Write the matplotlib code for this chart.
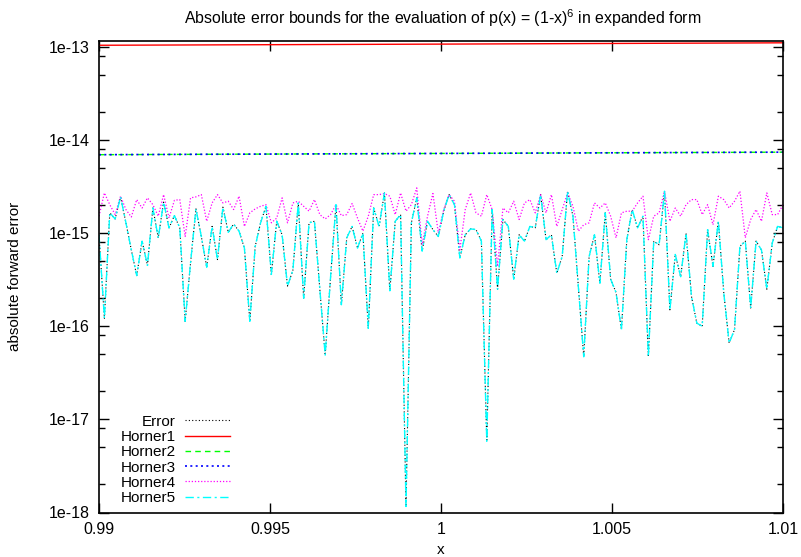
import matplotlib
matplotlib.use('Agg')
import matplotlib.pyplot as plt
import numpy as np
from matplotlib.ticker import FixedLocator, LogLocator, NullFormatter

plt.rcParams['font.family'] = ['Liberation Sans', 'DejaVu Sans']
plt.rcParams['mathtext.fontset'] = 'custom'
plt.rcParams['mathtext.rm'] = 'Liberation Sans'
plt.rcParams['mathtext.it'] = 'Liberation Sans'

# evaluation grid
x = np.linspace(0.99, 1.01, 128)

# a-priori bounds (nearly constant over the interval)
bound_x = [0.99, 1.0, 1.01]
horner1 = [1.04e-13, 1.07e-13, 1.105e-13]
horner2 = [6.95e-15, 7.17e-15, 7.4e-15]
horner3 = [6.95e-15, 7.17e-15, 7.4e-15]

# measured error
error = [
    9.6e-16, 1.22e-16, 1.65e-15, 1.42e-15, 2.45e-15, 1.29e-15, 6.6e-16, 3.5e-16,
    8.2e-16, 4.5e-16, 1.86e-15, 8.9e-16, 2.15e-15, 1.14e-15, 1.54e-15, 1.14e-15,
    1.13e-16, 4.8e-16, 1.82e-15, 9.2e-16, 4.3e-16, 1.18e-15, 5.2e-16, 1.90e-15,
    1.02e-15, 1.25e-15, 1.05e-15, 6.9e-16, 1.13e-16, 7.2e-16, 1.29e-15, 1.94e-15,
    3.6e-16, 1.34e-15, 9.6e-16, 2.7e-16, 4.0e-16, 2.11e-15, 2.0e-16, 1.29e-15,
    1.34e-15, 2.5e-16, 4.9e-17, 3.4e-16, 2.02e-15, 1.7e-16, 8.9e-16, 1.18e-15,
    6.9e-16, 1.0e-15, 9.5e-17, 1.86e-15, 1.18e-15, 2.70e-15, 2.4e-16, 1.34e-15,
    1.58e-15, 1.16e-18, 1.29e-15, 2.39e-15, 6.4e-16, 1.34e-15, 1.09e-15, 9.2e-16,
    1.72e-15, 2.59e-15, 2.02e-15, 5.4e-16, 9.6e-16, 1.11e-15, 1.09e-15, 8.2e-16,
    5.8e-18, 1.79e-15, 2.5e-16, 1.40e-15, 1.18e-15, 3.2e-16, 9.6e-16, 8.2e-16,
    1.18e-15, 1.14e-15, 2.59e-15, 8.5e-16, 9.6e-16, 3.7e-16, 5.6e-16, 2.82e-15,
    1.52e-15, 2.7e-16, 4.7e-17, 5.6e-16, 9.6e-16, 2.9e-16, 1.65e-15, 3.2e-16,
    2.3e-16, 9.2e-17, 8.5e-16, 1.79e-15, 1.14e-15, 1.52e-15, 4.7e-17, 8.2e-16,
    7.5e-16, 2.82e-15, 1.5e-16, 5.9e-16, 3.4e-16, 1.0e-15, 2.1e-16, 1.08e-16,
    1.0e-16, 1.09e-15, 4.4e-16, 1.34e-15, 2.3e-16, 6.6e-17, 9.2e-17, 7.2e-16,
    8.2e-16, 1.57e-16, 8.2e-16, 6.6e-16, 2.5e-16, 7.8e-16, 1.18e-15, 1.14e-15,
]

horner4 = [
    1.52e-15, 2.70e-15, 2.02e-15, 1.58e-15, 2.49e-15, 1.79e-15, 1.49e-15, 2.29e-15,
    1.86e-15, 2.39e-15, 2.02e-15, 1.52e-15, 2.59e-15, 1.45e-15, 2.25e-15, 2.29e-15,
    9.2e-16, 2.39e-15, 2.45e-15, 2.59e-15, 1.34e-15, 2.11e-15, 2.59e-15, 2.11e-15,
    2.20e-15, 1.79e-15, 2.49e-15, 1.18e-15, 1.65e-15, 1.82e-15, 1.94e-15, 2.02e-15,
    1.29e-15, 1.45e-15, 2.39e-15, 1.29e-15, 2.11e-15, 2.20e-15, 1.94e-15, 1.72e-15,
    2.29e-15, 1.58e-15, 1.42e-15, 1.58e-15, 2.02e-15, 1.54e-15, 1.58e-15, 2.08e-15,
    1.45e-15, 1.05e-15, 1.52e-15, 2.59e-15, 2.59e-15, 2.66e-15, 2.49e-15, 1.58e-15,
    2.70e-15, 1.72e-15, 2.02e-15, 3.06e-15, 7.5e-16, 1.52e-15, 2.66e-15, 1.0e-15,
    1.79e-15, 2.59e-15, 2.20e-15, 6.6e-16, 1.79e-15, 2.70e-15, 1.65e-15, 1.52e-15,
    2.59e-15, 1.79e-15, 4.4e-16, 1.86e-15, 1.65e-15, 2.20e-15, 1.40e-15, 2.11e-15,
    2.29e-15, 1.65e-15, 2.59e-15, 1.65e-15, 2.59e-15, 1.18e-15, 1.79e-15, 2.70e-15,
    1.94e-15, 1.05e-15, 1.23e-15, 1.29e-15, 2.11e-15, 1.86e-15, 2.11e-15, 1.52e-15,
    8.9e-16, 1.65e-15, 1.72e-15, 1.72e-15, 2.11e-15, 2.49e-15, 8.5e-16, 1.52e-15,
    1.65e-15, 2.82e-15, 1.34e-15, 1.86e-15, 1.52e-15, 2.02e-15, 2.29e-15, 2.29e-15,
    1.58e-15, 2.02e-15, 1.23e-15, 2.49e-15, 2.29e-15, 1.86e-15, 2.20e-15, 2.82e-15,
    8.9e-16, 1.40e-15, 1.79e-15, 1.34e-15, 2.70e-15, 1.58e-15, 1.58e-15, 2.02e-15,
]

# Horner5 follows the measured error
horner5 = list(error)

xticks = [0.99, 0.995, 1.0, 1.005, 1.01]
xticklabels = ['0.99', '0.995', '1', '1.005', '1.01']
yticks = [1e-18, 1e-17, 1e-16, 1e-15, 1e-14, 1e-13]
yticklabels = ['1e-18', '1e-17', '1e-16', '1e-15', '1e-14', '1e-13']

fig = plt.figure(figsize=(8.01, 5.57), dpi=100)
ax = fig.add_axes([99 / 801, 1 - 512.5 / 557, 684 / 801, 472 / 557])

ax.plot(x, error, color='black', lw=0.8, ls=(0, (1, 2)), label='Error')
ax.plot(bound_x, horner1, color='#ff0000', lw=1.0, label='Horner1')
ax.plot(bound_x, horner2, color='#00ff00', lw=1.0, ls=(0, (4, 3)), label='Horner2')
ax.plot(bound_x, horner3, color='#0000ff', lw=1.2, ls=(0, (1.2, 2)), label='Horner3')
ax.plot(x, horner4, color='#ff00ff', lw=0.9, ls=(0, (1, 1.5)), label='Horner4')
ax.plot(x, horner5, color='#00ffff', lw=1.0, ls=(0, (6, 2.5, 1.5, 2.5)), label='Horner5')

ax.set_yscale('log')
ax.set_xlim(0.99, 1.01)
ax.set_ylim(1e-18, 1.17e-13)

ax.xaxis.set_major_locator(FixedLocator(xticks))
ax.set_xticklabels(xticklabels)
ax.yaxis.set_major_locator(FixedLocator(yticks))
ax.set_yticklabels(yticklabels)
ax.yaxis.set_minor_locator(LogLocator(base=10, subs=(2, 5, 8)))
ax.yaxis.set_minor_formatter(NullFormatter())

ax.tick_params(which='both', direction='in', top=True, right=True, labelsize=11.5, width=1.0)
ax.tick_params(which='major', length=7)
ax.tick_params(which='minor', length=4)
ax.tick_params(axis='y', pad=7)
ax.tick_params(axis='x', pad=7)
for s in ax.spines.values():
    s.set_linewidth(1.2)

ax.set_xlabel('x', fontsize=11)
ax.xaxis.set_label_coords(0.5, -0.064)
ax.set_ylabel('absolute forward error', fontsize=11)
ax.yaxis.set_label_coords(-0.113, 0.5)
fig.text(443 / 801, 1 - 18 / 557,
         r'Absolute error bounds for the evaluation of p(x) = (1-x)$^{6}$ in expanded form',
         ha='center', va='center', fontsize=11.4)

ax.legend(loc='lower left', bbox_to_anchor=(0.032, 0.016), frameon=False,
          markerfirst=False, fontsize=11, handlelength=2.94, handletextpad=0.59,
          labelspacing=0.08, borderpad=0, borderaxespad=0)

fig.savefig('out.png', dpi=100)
